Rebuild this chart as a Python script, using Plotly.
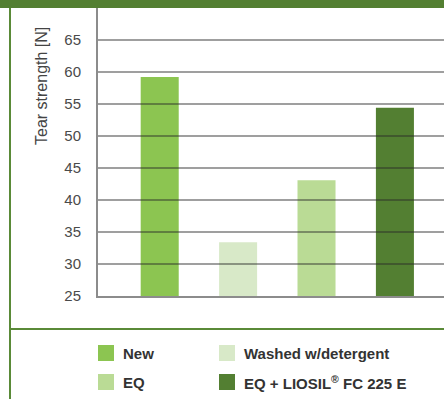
import plotly.graph_objects as go

# ---- data ----
categories = ["New", "Washed w/detergent", "EQ", "EQ + LIOSIL<sup>®</sup> FC 225 E"]
tear_strength = [59.2, 33.4, 43.1, 54.4]
y_ticks = [25, 30, 35, 40, 45, 50, 55, 60, 65]

# ---- styles ----
bar_colors = ["#8cc551", "#d8e9c8", "#badb95", "#537f32"]
frame_green = "#5a8a38"

W, H = 444, 399
L, R, T, B = 98, 0, 8, 103
PW, PH = W - L - R, H - T - B


def px_x(p):
    return (p - L) / PW


def px_y(p):
    return (H - B - p) / PH


fig = go.Figure()
for i, (name, val, col) in enumerate(zip(categories, tear_strength, bar_colors)):
    fig.add_trace(go.Bar(x=[i], y=[val], name=name, marker=dict(color=col, line=dict(width=0)),
                         width=0.485, showlegend=False))

shapes = []
# gridlines drawn above bars
for t in y_ticks[1:]:
    shapes.append(dict(type="line", xref="paper", yref="y", x0=0, x1=1, y0=t, y1=t,
                       line=dict(color="rgba(40,40,40,0.6)", width=1.5), layer="above"))
# frame decorations
shapes.append(dict(type="rect", xref="paper", yref="paper", x0=px_x(0), x1=1,
                   y0=1, y1=px_y(0), fillcolor="#537f32", line=dict(width=0), layer="above"))
shapes.append(dict(type="line", xref="paper", yref="paper", x0=px_x(10), x1=px_x(10),
                   y0=px_y(8), y1=px_y(H), line=dict(color=frame_green, width=2)))
shapes.append(dict(type="line", xref="paper", yref="paper", x0=px_x(10), x1=1,
                   y0=px_y(329), y1=px_y(329), line=dict(color=frame_green, width=2)))

# manual legend
legend_pos = [(98, 353), (219, 353), (98, 382), (219, 382)]
annotations = []
for (lx, ly), name, col in zip(legend_pos, categories, bar_colors):
    shapes.append(dict(type="rect", xref="paper", yref="paper", x0=px_x(lx), x1=px_x(lx + 16),
                       y0=px_y(ly - 8), y1=px_y(ly + 8), fillcolor=col, line=dict(width=0)))
    annotations.append(dict(xref="paper", yref="paper", x=px_x(lx + 23), y=px_y(ly),
                            xanchor="left", yanchor="middle", text=name, showarrow=False,
                            font=dict(family="Liberation Sans, Arial", size=15, color="#333333",
                                      weight="bold")))

annotations.append(dict(xref="paper", yref="paper", x=px_x(41), y=px_y(86), text="Tear strength [N]",
                        textangle=-90, showarrow=False, xanchor="center", yanchor="middle",
                        font=dict(family="Liberation Sans, Arial", size=16, color="#444444")))

fig.update_layout(
    width=W, height=H, autosize=False,
    margin=dict(l=L, r=R, t=T, b=B, pad=0),
    paper_bgcolor="white", plot_bgcolor="white",
    barmode="overlay",
    shapes=shapes, annotations=annotations,
    xaxis=dict(range=[-0.787, 3.626], showticklabels=False, ticks="", showgrid=False,
               zeroline=False, showline=True, linecolor="#8c8c8c", linewidth=2,
               fixedrange=True),
    yaxis=dict(range=[25, 70], tickvals=y_ticks, ticks="", showgrid=False, zeroline=False,
               showline=True, linecolor="#8c8c8c", linewidth=2, ticklabelstandoff=12,
               tickfont=dict(family="Liberation Sans, Arial", size=15, color="#4a4a4a"),
               fixedrange=True),
    showlegend=False,
)

fig.write_html("out.html")
